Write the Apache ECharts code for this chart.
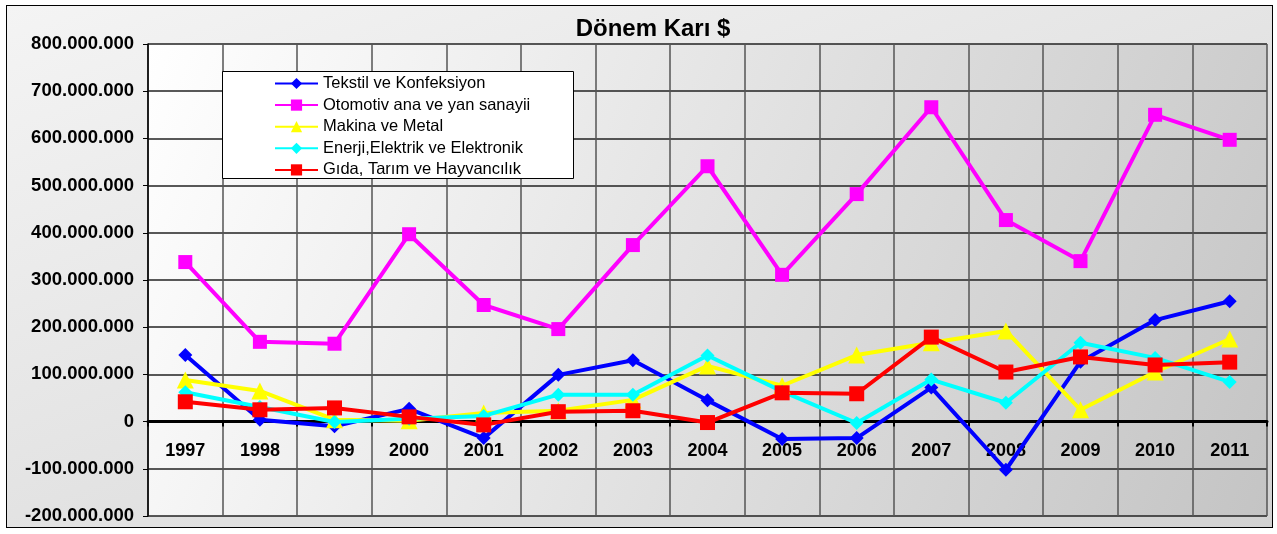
<!DOCTYPE html>
<html>
<head>
<meta charset="utf-8">
<script src="https://cdn.jsdelivr.net/npm/echarts@6/dist/echarts.min.js"></script>
<style>
  html, body { margin: 0; padding: 0; background: #ffffff; }
  #wrap { position: relative; width: 1277px; height: 534px; }
  #frame { position: absolute; left: 6px; top: 5px; width: 1265px; height: 521px;
           border: 1.5px solid #000; background: linear-gradient(160deg, #f4f4f4 0%, #e2e2e2 55%, #d2d2d2 100%); }
  #chart { position: absolute; left: 0; top: 0; width: 1277px; height: 534px; }
</style>
</head>
<body>
<div id="wrap"><div id="frame"></div><div id="chart"></div></div>
<script>
const titleText = 'Dönem Karı $';
const years = ['1997','1998','1999','2000','2001','2002','2003','2004','2005','2006','2007','2008','2009','2010','2011'];
const seriesNames = ['Tekstil ve Konfeksiyon','Otomotiv ana ve yan sanayii','Makina ve Metal','Enerji,Elektrik ve Elektronik','Gıda, Tarım ve Hayvancılık'];
const tekstil  = [141e6, 4e6, -10e6, 27e6, -35e6, 99e6, 130e6, 45e6, -37e6, -35e6, 72e6, -102e6, 127e6, 215e6, 255e6];
const otomotiv = [338e6, 169e6, 165e6, 397e6, 247e6, 196e6, 374e6, 541e6, 311e6, 482e6, 666e6, 427e6, 340e6, 650e6, 597e6];
const makina   = [88e6, 65e6, 4e6, 2e6, 18e6, 23e6, 46e6, 118e6, 76e6, 141e6, 167e6, 192e6, 25e6, 105e6, 175e6];
const enerji   = [62e6, 31e6, -1e6, 6e6, 12e6, 57e6, 57e6, 140e6, 64e6, -3e6, 89e6, 40e6, 167e6, 135e6, 84e6];
const gida     = [42e6, 25e6, 29e6, 10e6, -7e6, 21e6, 23e6, -2e6, 61e6, 59e6, 179e6, 105e6, 137e6, 120e6, 126e6];
const yMin = -200e6, yMax = 800e6, yStep = 100e6;

function fmt(v) {
  const neg = v < 0;
  let s = String(Math.abs(Math.round(v)));
  s = s.replace(/\B(?=(\d{3})+(?!\d))/g, '.');
  return (neg ? '-' : '') + s;
}

const gridTop = 44, gridBottom = 18, H = 534;
const plotH = H - gridTop - gridBottom;
const zeroOffset = -plotH * (0 - yMin) / (yMax - yMin);

const chart = echarts.init(document.getElementById('chart'), null, { renderer: 'canvas' });
const font = 'Liberation Sans, Arial, sans-serif';
function mk(name, data, color, symbol, size) {
  return {
    name, type: 'line', data, symbol, symbolSize: size,
    lineStyle: { color, width: 4 }, itemStyle: { color },
    emphasis: { disabled: true }, animation: false
  };
}
chart.setOption({
  backgroundColor: 'transparent',
  animation: false,
  title: {
    text: titleText, left: 648, top: 12, textAlign: 'center',
    textStyle: { fontFamily: font, fontSize: 24, fontWeight: 'bold', color: '#000' }
  },
  grid: {
    left: 148, right: 10, top: gridTop, bottom: gridBottom, show: true, borderWidth: 0,
    outerBoundsMode: 'none', containLabel: false,
    backgroundColor: new echarts.graphic.LinearGradient(0, 0, 1, 1, [
      { offset: 0, color: '#ffffff' }, { offset: 1, color: '#c4c4c4' }
    ])
  },
  graphic: [{
    type: 'rect', z: 3, shape: { x: 222.5, y: 71.5, width: 351, height: 107 },
    style: { fill: '#ffffff', stroke: '#000', lineWidth: 1 }
  }],
  legend: {
    orient: 'vertical', left: 274, top: 75, padding: 0, itemWidth: 43, itemHeight: 14, itemGap: 4.6,
    data: seriesNames, z: 5,
    textStyle: { fontFamily: font, fontSize: 16.5, color: '#000', lineHeight: 16 }
  },
  xAxis: {
    type: 'category', data: years, boundaryGap: true, position: 'bottom', offset: zeroOffset,
    axisLine: { onZero: false, lineStyle: { color: '#000', width: 3 } },
    axisTick: { show: true, length: 5, lineStyle: { color: '#000', width: 2 } },
    axisLabel: { fontFamily: font, fontSize: 18, fontWeight: 'bold', color: '#000', margin: 20 },
    splitLine: { show: true, lineStyle: { color: '#555', width: 1.5 } }
  },
  yAxis: {
    type: 'value', min: yMin, max: yMax, interval: yStep,
    axisLine: { show: true, onZero: false, lineStyle: { color: '#000', width: 1.5 } },
    axisTick: { show: true, length: 5, lineStyle: { color: '#000' } },
    axisLabel: { fontFamily: font, fontSize: 18.5, fontWeight: 'bold', color: '#000', margin: 14, formatter: fmt },
    splitLine: { show: true, lineStyle: { color: '#222', width: 1.5 } }
  },
  series: [
    mk(seriesNames[0], tekstil, '#0000ff', 'diamond', 14),
    mk(seriesNames[1], otomotiv, '#ff00ff', 'rect', 14),
    mk(seriesNames[2], makina, '#ffff00', 'triangle', 17),
    mk(seriesNames[3], enerji, '#00ffff', 'diamond', 14),
    mk(seriesNames[4], gida, '#ff0000', 'rect', 15)
  ]
});
</script>
</body>
</html>
